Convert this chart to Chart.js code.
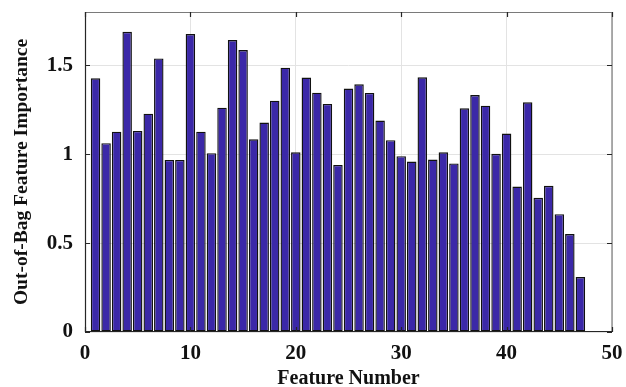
<!DOCTYPE html>
<html>
<head>
<meta charset="utf-8">
<script src="https://cdn.jsdelivr.net/npm/chart.js@4"></script>
<style>
  html, body { margin: 0; padding: 0; background: #fff; }
  #wrap { width: 626px; height: 387px; }
</style>
</head>
<body>
<div id="wrap"><canvas id="oobChart" width="626" height="387"></canvas></div>
<script>
// Feature numbers 1..47 and their out-of-bag importance
const features = [1, 2, 3, 4, 5, 6, 7, 8, 9, 10, 11, 12, 13, 14, 15, 16, 17, 18, 19, 20,
  21, 22, 23, 24, 25, 26, 27, 28, 29, 30, 31, 32, 33, 34, 35, 36, 37, 38, 39, 40,
  41, 42, 43, 44, 45, 46, 47];
const importance = [1.427, 1.062, 1.127, 1.689, 1.131, 1.228, 1.539, 0.968, 0.968, 1.676,
  1.127, 1.006, 1.262, 1.642, 1.586, 1.084, 1.178, 1.301, 1.487, 1.011,
  1.431, 1.346, 1.283, 0.940, 1.369, 1.393, 1.345, 1.189, 1.079, 0.989,
  0.959, 1.433, 0.970, 1.011, 0.948, 1.258, 1.333, 1.273, 1.002, 1.116,
  0.818, 1.292, 0.755, 0.822, 0.663, 0.551, 0.309];
const xTicks = [0, 10, 20, 30, 40, 50];
const yTicks = [0, 0.5, 1, 1.5];

const serif = "'Liberation Serif', 'Times New Roman', serif";

// MATLAB-like box with inward ticks on all four sides
const boxTicks = {
  id: "boxTicks",
  afterDraw(chart) {
    const { ctx, chartArea: a, scales: { x, y } } = chart;
    const len = 5;
    ctx.save();
    ctx.lineWidth = 1.2;
    // top + right in gray
    ctx.strokeStyle = "#7a7a7a";
    ctx.beginPath();
    ctx.moveTo(a.left, a.top + 0.5);
    ctx.lineTo(a.right, a.top + 0.5);
    ctx.lineTo(a.right, a.bottom);
    ctx.stroke();
    // left + bottom darker
    ctx.strokeStyle = "#262626";
    ctx.beginPath();
    ctx.moveTo(a.left + 0.5, a.top);
    ctx.lineTo(a.left + 0.5, a.bottom - 0.5);
    ctx.lineTo(a.right, a.bottom - 0.5);
    ctx.stroke();
    ctx.beginPath();
    xTicks.forEach(v => {
      const px = Math.round(x.getPixelForValue(v)) + 0.5;
      ctx.moveTo(px, a.bottom); ctx.lineTo(px, a.bottom - len);
      ctx.moveTo(px, a.top); ctx.lineTo(px, a.top + len);
    });
    yTicks.forEach(v => {
      const py = Math.round(y.getPixelForValue(v)) + 0.5;
      ctx.moveTo(a.left, py); ctx.lineTo(a.left + len, py);
      ctx.moveTo(a.right, py); ctx.lineTo(a.right - len, py);
    });
    ctx.stroke();
    ctx.restore();
  }
};

new Chart(document.getElementById("oobChart"), {
  type: "bar",
  data: {
    datasets: [{
      data: features.map((f, i) => ({ x: f, y: importance[i] })),
      backgroundColor: "#3b28a8",
      borderColor: "#111111",
      borderWidth: 1.4,
      borderSkipped: false,
      barPercentage: 0.9,
      categoryPercentage: 1.0
    }]
  },
  options: {
    responsive: false,
    animation: false,
    layout: { padding: { top: 0, right: 0, left: 0, bottom: 0 } },
    plugins: { legend: { display: false }, tooltip: { enabled: false } },
    scales: {
      x: {
        type: "linear",
        min: 0,
        max: 50,
        offset: false,
        afterBuildTicks: s => { s.ticks = xTicks.map(v => ({ value: v })); },
        afterFit: s => { s.height = 55; s.paddingRight = 14; },
        grid: { color: "#e3e3e3", drawTicks: false, offset: false },
        border: { display: false },
        ticks: { color: "#111", padding: 9, font: { family: serif, size: 21, weight: "bold" } },
        title: {
          display: true,
          text: "Feature Number",
          color: "#111",
          padding: { top: 0, bottom: -4 },
          font: { family: serif, size: 20, weight: "bold" }
        }
      },
      y: {
        min: 0,
        max: 1.8,
        afterBuildTicks: s => { s.ticks = yTicks.map(v => ({ value: v })); },
        afterFit: s => { s.width = 85; s.paddingTop = 12; },
        grid: { color: "#e3e3e3", drawTicks: false },
        border: { display: false },
        ticks: {
          color: "#111",
          padding: 12,
          font: { family: serif, size: 21, weight: "bold" },
          callback: v => String(v)
        },
        title: {
          display: true,
          text: "Out-of-Bag Feature Importance",
          color: "#111",
          padding: { top: 10, bottom: 0 },
          font: { family: serif, size: 19.5, weight: "bold" }
        }
      }
    }
  },
  plugins: [boxTicks]
});
</script>
</body>
</html>
